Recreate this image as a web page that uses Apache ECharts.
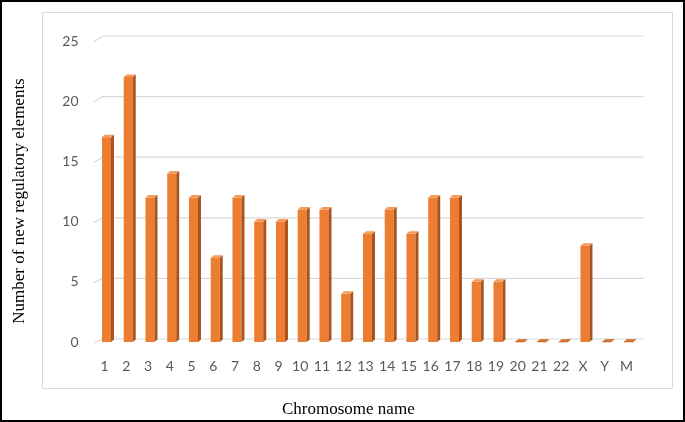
<!DOCTYPE html>
<html>
<head>
<meta charset="utf-8">
<script src="https://cdn.jsdelivr.net/npm/echarts@6/dist/echarts.min.js"></script>
<style>
html,body{margin:0;padding:0;background:#fff;}
#chart{width:685px;height:422px;}
</style>
</head>
<body>
<div id="chart"></div>
<script>
const categories = ['1','2','3','4','5','6','7','8','9','10','11','12','13','14','15','16','17','18','19','20','21','22','X','Y','M'];
const values = [17,22,12,14,12,7,12,10,10,11,11,4,9,11,9,12,12,5,5,0,0,0,8,0,0];
const yTicks = [0,5,10,15,20,25];
const yTitle = 'Number of new regulatory elements';
const xTitle = 'Chromosome name';

const chart = echarts.init(document.getElementById('chart'), null, {renderer:'canvas'});

function renderBar(params, api){
  const idx = api.value(0), v = api.value(1);
  const p = api.coord([idx, v]);
  const p0 = api.coord([idx, 0]);
  const cx = p[0] + 2, w = 9, dx = 3, dy = 2.5;
  const l = cx - w/2, r = cx + w/2;
  const children = [];
  if (p0[1] - p[1] > 0.1) {
    children.push({type:'rect', shape:{x:l, y:p[1], width:w, height:p0[1]-p[1]}, style:{fill:'#ED7D31'}});
    children.push({type:'polygon', shape:{points:[[r,p[1]],[r+dx,p[1]-dy],[r+dx,p0[1]-dy],[r,p0[1]]]}, style:{fill:'#A9541C'}});
  }
  children.push({type:'polygon', shape:{points:[[l,p[1]],[l+dx,p[1]-dy],[r+dx,p[1]-dy],[r,p[1]]]}, style:{fill: v === 0 ? '#D8732F' : '#F29A5C', stroke: v === 0 ? '#B9601F' : null, lineWidth: 0.5}});
  return {type:'group', children};
}

function renderGrid(params, api){
  const v = api.value(1);
  const y = api.coord([0, v])[1];
  const y0 = api.coord([0, 0])[1];
  const yt = api.coord([0, yTicks[yTicks.length-1]])[1];
  const cs = params.coordSys;
  const rise = 3 + 2 * (y0 - y) / (y0 - yt);
  const left = cs.x;
  return {type:'polyline', shape:{points:[[left, y + 1], [left + 9, y - rise], [left + 550, y - rise]]}, style:{stroke:'#d9d9d9', lineWidth:1.2, fill:null}};
}

chart.setOption({
  animation:false,
  backgroundColor:'#fff',
  graphic:[
    {type:'rect', shape:{x:1, y:1, width:683, height:420}, style:{fill:null, stroke:'#000', lineWidth:2}, z:100},
    {type:'rect', shape:{x:42.5, y:12.5, width:630, height:376}, style:{fill:null, stroke:'#d9d9d9', lineWidth:1}, z:-1},
    {type:'text', style:{text:xTitle, font:'17px "Liberation Serif", "Times New Roman", serif', fill:'#000'}, top:401, left:282},
    {type:'text', rotation:Math.PI/2, x:20, y:201, style:{text:yTitle, font:'17px "Liberation Serif", "Times New Roman", serif', fill:'#000', align:'center', verticalAlign:'middle'}, originX:0, originY:0}
  ],
  grid:{left:93.6, width:543.75, top:41, bottom:80, containLabel:false},
  xAxis:{
    type:'category', data:categories,
    axisLine:{show:false}, axisTick:{show:false},
    axisLabel:{color:'#595959', fontSize:14, fontFamily:'Lato, "Open Sans", sans-serif', margin:17, interval:0}
  },
  yAxis:{
    type:'value', min:0, max:25, interval:5,
    axisLine:{show:false}, axisTick:{show:false}, splitLine:{show:false},
    axisLabel:{color:'#595959', fontSize:14, fontFamily:'Lato, "Open Sans", sans-serif', margin:15}
  },
  series:[
    {type:'custom', name:'grid', data:yTicks.map(t => [0, t]), renderItem:renderGrid, z:1, silent:true},
    {type:'custom', name:'bars', data:values.map((v,i) => [i, v]), renderItem:renderBar, z:2}
  ]
});
</script>
</body>
</html>
